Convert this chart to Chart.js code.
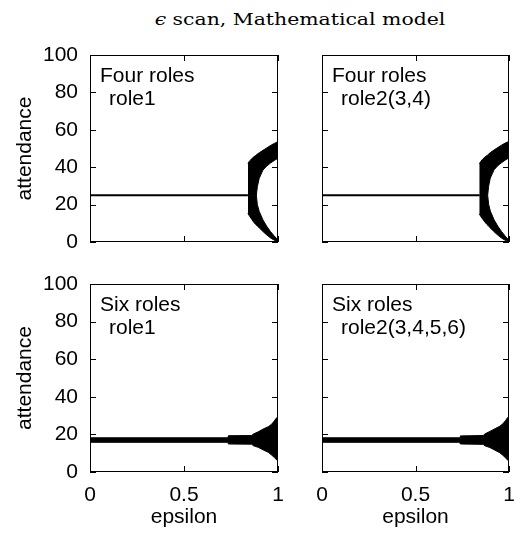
<!DOCTYPE html>
<html>
<head>
<meta charset="utf-8">
<script src="https://cdn.jsdelivr.net/npm/chart.js@4.4.1/dist/chart.umd.min.js"></script>
<style>
  body { margin: 0; background: #fff; }
  #wrap { position: relative; width: 517px; height: 533px; overflow: hidden; }
  canvas { position: absolute; }
  #title { position: absolute; left: 0; width: 600px; top: 9px; line-height: 18px;
           text-align: center; font: 17px "DejaVu Serif"; color: #000;
           transform: scaleX(1.2); transform-origin: 300px 0; }
</style>
</head>
<body>
<div id="wrap">
  <div id="title"><i>ϵ</i> scan, Mathematical model</div>
  <canvas id="c_tl" width="298" height="239" style="left:0;top:29px"></canvas>
  <canvas id="c_tr" width="229" height="239" style="left:300px;top:29px"></canvas>
  <canvas id="c_bl" width="298" height="275" style="left:0;top:258px"></canvas>
  <canvas id="c_br" width="229" height="275" style="left:300px;top:258px"></canvas>
</div>
<script>
// tick values and axis labels
const xTickVals = [0, 0.5, 1];
const yTickVals = [0, 20, 40, 60, 80, 100];
const xTitle = 'epsilon';
const yTitle = 'attendance';

// four roles, role1
const flatX1 = [0, 0.84];
const flatY1 = [25, 25];
const epsC1 = [0.840, 0.850, 0.860, 0.870, 0.880, 0.885, 0.890, 0.900, 0.920, 0.940, 0.960, 0.980, 1.000];
const uOut1 = [42.0, 43.5, 44.5, 45.4, 46.2, 46.6, 47.0, 47.7, 49.0, 50.3, 51.6, 52.7, 53.6];
const uIn1  = [25.0, 25.0, 25.0, 25.0, 25.0, 25.0, 29.5, 34.0, 38.5, 40.6, 42.2, 43.6, 44.8];
const lIn1  = [25.0, 25.0, 25.0, 25.0, 25.0, 25.0, 20.0, 16.4, 11.8, 8.4, 5.6, 3.2, 1.0];
const lOut1 = [15.3, 13.6, 12.2, 10.7, 9.5, 9.0, 8.5, 7.6, 5.6, 3.8, 2.2, 1.0, 0.0];

// four roles, role2(3,4)
const flatX2 = [0, 0.841];
const flatY2 = [25, 25];
const epsC2 = [0.841, 0.850, 0.860, 0.870, 0.880, 0.886, 0.891, 0.900, 0.920, 0.940, 0.960, 0.980, 1.000];
const uOut2 = [41.8, 43.2, 44.4, 45.3, 46.1, 46.5, 47.0, 47.8, 49.2, 50.5, 51.8, 52.9, 53.8];
const uIn2  = [25.0, 25.0, 25.0, 25.0, 25.0, 25.0, 29.8, 34.2, 38.6, 40.8, 42.4, 43.8, 45.0];
const lIn2  = [25.0, 25.0, 25.0, 25.0, 25.0, 25.0, 20.2, 16.6, 11.9, 8.5, 5.6, 3.1, 0.9];
const lOut2 = [15.1, 13.5, 12.1, 10.8, 9.6, 9.0, 8.5, 7.5, 5.5, 3.7, 2.1, 0.9, 0.0];

// six roles, role1
const epsS1 = [0, 0.734, 0.736, 0.860, 0.869, 0.895, 0.922, 0.948, 0.966, 0.980, 0.993, 1.0];
const sTop1 = [18.2, 18.2, 19.3, 19.4, 20.2, 21.4, 22.9, 24.1, 25.4, 27.1, 28.9, 29.4];
const sBot1 = [15.8, 15.8, 14.9, 14.8, 14.0, 13.1, 11.7, 10.5, 9.0, 7.8, 6.4, 6.2];

// six roles, role2(3,4,5,6)
const epsS2 = [0, 0.738, 0.740, 0.862, 0.872, 0.898, 0.925, 0.950, 0.967, 0.981, 0.993, 1.0];
const sTop2 = [18.2, 18.2, 19.2, 19.4, 20.3, 21.6, 23.0, 24.3, 25.6, 27.3, 29.0, 29.6];
const sBot2 = [15.8, 15.8, 14.9, 14.7, 13.9, 13.0, 11.6, 10.3, 8.9, 7.6, 6.3, 6.0];

const sans = '"Liberation Sans", Arial, sans-serif';
const fontSize = 21;

function pts(xs, ys) {
  return xs.map((x, i) => ({ x: x, y: ys[i] }));
}

function band(xs, ys, fill) {
  return {
    data: pts(xs, ys), borderColor: '#000', backgroundColor: '#000',
    borderWidth: 1, pointRadius: 0, tension: 0, fill: fill
  };
}

// box, inward ticks on all four sides, and the two-line label
const framePlugin = {
  id: 'frame',
  afterDraw(chart, args, opts) {
    const { ctx, chartArea: a, scales: { x, y } } = chart;
    ctx.save();
    ctx.strokeStyle = '#000';
    ctx.lineWidth = 1;
    ctx.strokeRect(a.left + 0.5, a.top + 0.5, a.right - a.left - 1, a.bottom - a.top - 1);
    ctx.beginPath();
    yTickVals.forEach(v => {
      const py = Math.round(y.getPixelForValue(v)) + 0.5;
      ctx.moveTo(a.left, py); ctx.lineTo(a.left + 6, py);
      ctx.moveTo(a.right - 6, py); ctx.lineTo(a.right, py);
    });
    xTickVals.forEach(v => {
      const px = Math.round(x.getPixelForValue(v)) + 0.5;
      ctx.moveTo(px, a.top); ctx.lineTo(px, a.top + 6);
      ctx.moveTo(px, a.bottom - 6); ctx.lineTo(px, a.bottom);
    });
    ctx.stroke();
    ctx.fillStyle = '#000';
    ctx.font = fontSize + 'px ' + sans;
    ctx.textBaseline = 'alphabetic';
    ctx.fillText(opts.line1, a.left + 10, a.top + 27);
    ctx.fillText(opts.line2, a.left + 19, a.top + 50);
    ctx.restore();
  }
};

function makePanel(id, datasets, o) {
  new Chart(document.getElementById(id), {
    type: 'line',
    data: { datasets: datasets },
    plugins: [framePlugin],
    options: {
      responsive: false,
      animation: false,
      events: [],
      layout: { padding: o.padding },
      plugins: {
        legend: { display: false },
        tooltip: { enabled: false },
        frame: { line1: o.line1, line2: o.line2 }
      },
      scales: {
        x: {
          type: 'linear', min: 0, max: 1,
          display: o.showX,
          grid: { display: false, drawTicks: false },
          border: { display: false },
          afterBuildTicks: s => { s.ticks = xTickVals.map(v => ({ value: v })); },
          afterFit: s => { if (o.showX) s.height = 61; },
          ticks: { padding: 11, color: '#000', autoSkip: false, maxRotation: 0,
                   callback: v => String(v), font: { family: sans, size: fontSize } },
          title: { display: true, text: xTitle, color: '#000',
                   padding: { top: 0, bottom: 3 }, font: { family: sans, size: fontSize } }
        },
        y: {
          type: 'linear', min: 0, max: 100,
          display: o.showY,
          grid: { display: false, drawTicks: false },
          border: { display: false },
          afterBuildTicks: s => { s.ticks = yTickVals.map(v => ({ value: v })); },
          afterFit: s => { if (o.showY) s.width = 90; },
          ticks: { padding: 12, color: '#000', autoSkip: false,
                   callback: v => String(v), font: { family: sans, size: fontSize } },
          title: { display: true, text: yTitle, color: '#000',
                   padding: { top: 13, bottom: 0 }, font: { family: sans, size: fontSize } }
        }
      }
    }
  });
}

function fourRoles(fx, fy, eps, uo, ui, li, lo) {
  return [
    { data: pts(fx, fy), borderColor: '#000', borderWidth: 2, pointRadius: 0, fill: false },
    band(eps, uo, false),
    band(eps, ui, '-1'),
    band(eps, li, false),
    band(eps, lo, '-1')
  ];
}

function sixRoles(eps, top, bot) {
  return [band(eps, top, false), band(eps, bot, '-1')];
}

makePanel('c_tl', fourRoles(flatX1, flatY1, epsC1, uOut1, uIn1, lIn1, lOut1), {
  showX: false, showY: true, line1: 'Four roles', line2: 'role1',
  padding: { top: 26, right: 20, bottom: 26, left: 0 }
});
makePanel('c_tr', fourRoles(flatX2, flatY2, epsC2, uOut2, uIn2, lIn2, lOut2), {
  showX: false, showY: false, line1: 'Four roles', line2: 'role2(3,4)',
  padding: { top: 26, right: 20, bottom: 26, left: 22 }
});
makePanel('c_bl', sixRoles(epsS1, sTop1, sBot1), {
  showX: true, showY: true, line1: 'Six roles', line2: 'role1',
  padding: { top: 26, right: 20, bottom: 0, left: 0 }
});
makePanel('c_br', sixRoles(epsS2, sTop2, sBot2), {
  showX: true, showY: false, line1: 'Six roles', line2: 'role2(3,4,5,6)',
  padding: { top: 26, right: 20, bottom: 0, left: 22 }
});
</script>
</body>
</html>
